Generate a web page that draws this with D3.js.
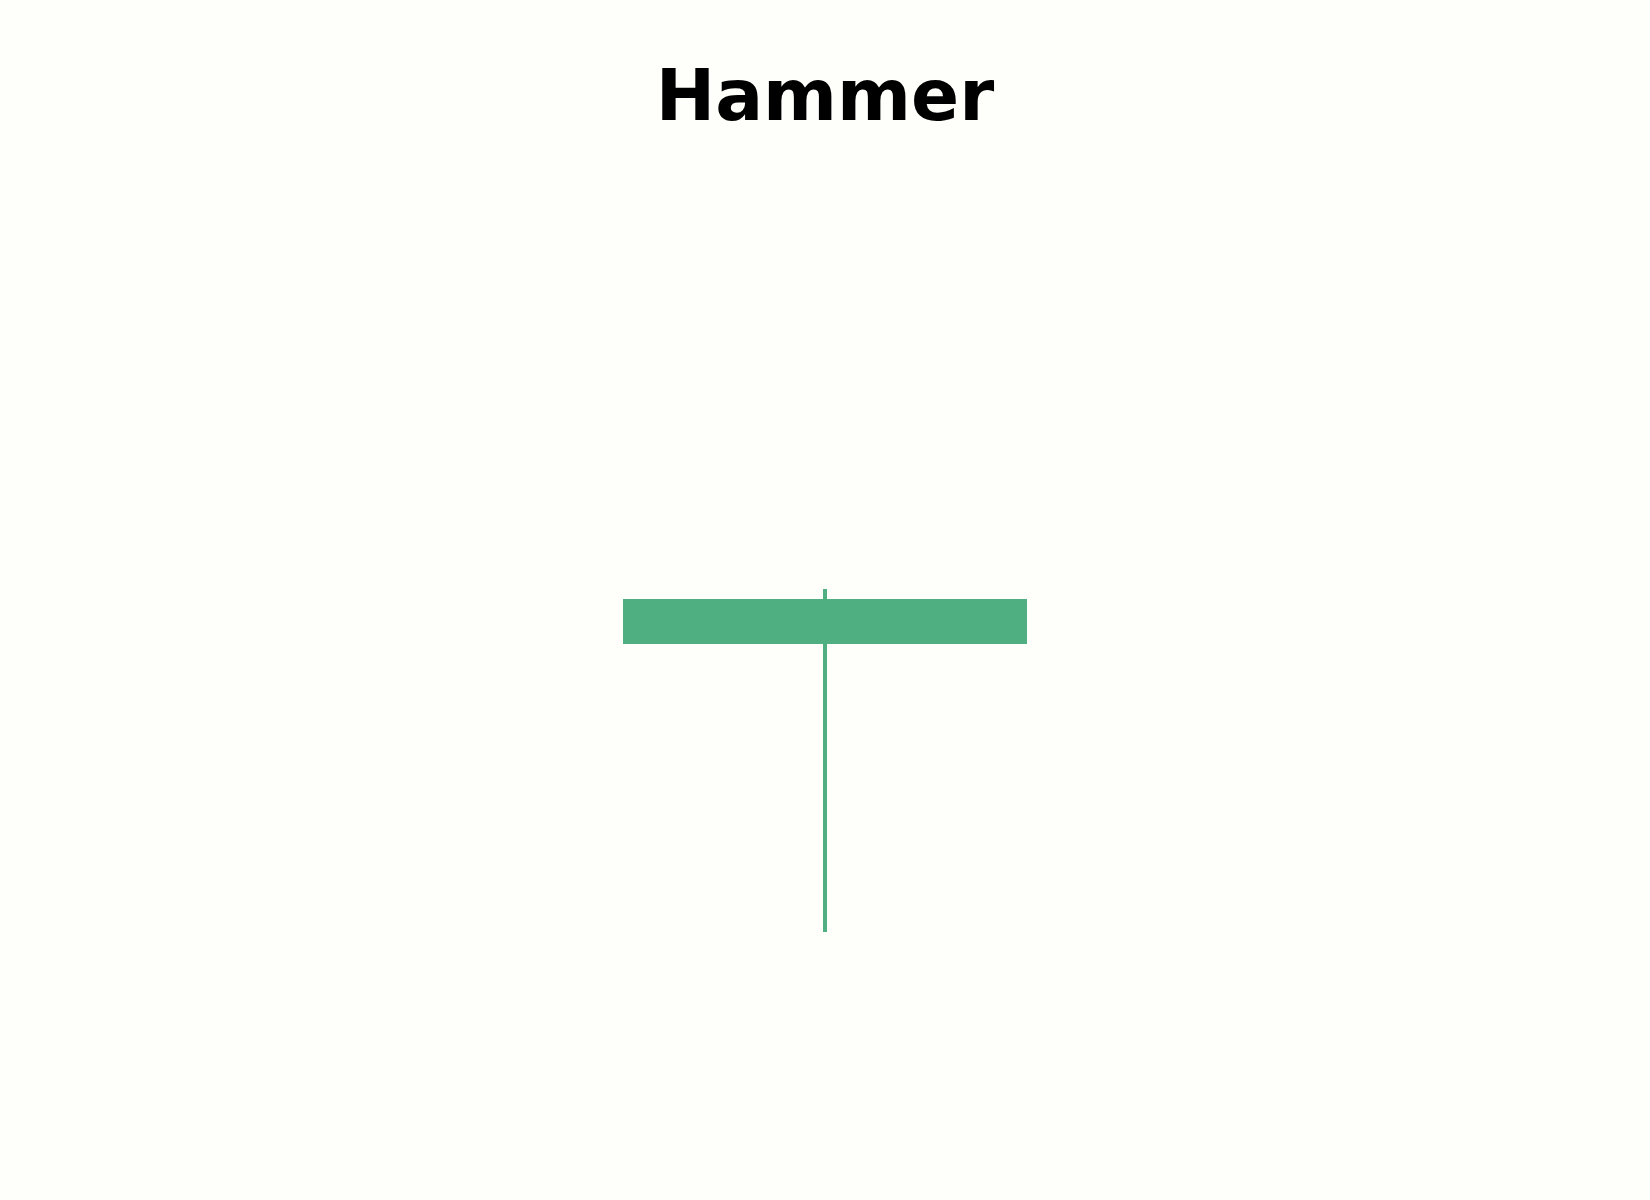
<!DOCTYPE html>
<html>
<head>
<meta charset="utf-8">
<script src="https://cdn.jsdelivr.net/npm/d3@7"></script>
<style>
  html, body { margin: 0; padding: 0; background: #fefefa; }
  svg { display: block; }
</style>
</head>
<body>
<div id="chart"></div>
<script>
// data
const days = ["Day 1"];
const opens = [105];
const highs = [107.45];
const lows = [92.2];
const closes = [107];

const width = 1650, height = 1200;

const candles = days.map((d, i) => ({
  day: d, open: opens[i], high: highs[i], low: lows[i], close: closes[i]
}));

const svg = d3.select("#chart")
  .append("svg")
    .attr("width", width)
    .attr("height", height)
    .style("background", "#fefefa");

// scales
const x = d3.scaleBand()
  .domain(days)
  .range([623, 1027])
  .padding(0);

const y = d3.scaleLinear()
  .domain([88, 112])
  .range([1026.5, 486.5]);

const color = d => d.close >= d.open ? "#4faf80" : "#e0524f";

// wicks
svg.selectAll("line.wick")
  .data(candles)
  .join("line")
    .attr("class", "wick")
    .attr("x1", d => x(d.day) + x.bandwidth() / 2)
    .attr("x2", d => x(d.day) + x.bandwidth() / 2)
    .attr("y1", d => y(d.high))
    .attr("y2", d => y(d.low))
    .attr("stroke", color)
    .attr("stroke-width", 4);

// bodies
svg.selectAll("rect.body")
  .data(candles)
  .join("rect")
    .attr("class", "body")
    .attr("x", d => x(d.day))
    .attr("width", x.bandwidth())
    .attr("y", d => y(Math.max(d.open, d.close)))
    .attr("height", d => Math.abs(y(d.open) - y(d.close)))
    .attr("fill", color);

// title
svg.append("text")
  .attr("x", 825)
  .attr("y", 120)
  .attr("text-anchor", "middle")
  .style("font-family", "'DejaVu Sans', sans-serif")
  .style("font-weight", "bold")
  .style("font-size", "71px")
  .style("fill", "#000")
  .text("Hammer");
</script>
</body>
</html>
